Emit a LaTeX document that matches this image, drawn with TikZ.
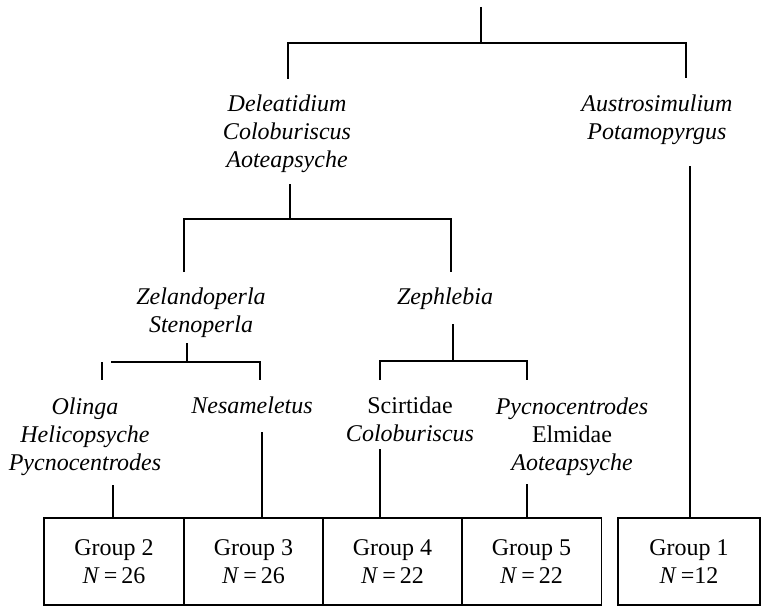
\documentclass[tikz,border=0pt]{standalone}
\usepackage{fontspec}
\setmainfont{Liberation Serif}

\tikzset{
	taxa/.style={align=center,inner sep=0pt,font=\fontsize{24}{28}\selectfont\itshape},
	grp/.style={draw,line width=1.6pt,minimum width=140pt,minimum height=87pt,align=center,inner sep=0pt,font=\fontsize{24}{28}\selectfont},
	br/.style={line width=1.6pt}
}

\begin{document}
\begin{tikzpicture}[x=1pt,y=-1pt]
	\useasboundingbox (0,0) rectangle (762,607);
	\node[taxa] (del) at (287,134) {Deleatidium\\Coloburiscus\\Aoteapsyche};
	\node[taxa] (aus) at (657,120) {Austrosimulium\\Potamopyrgus};
	\node[taxa] (zel) at (201,313) {Zelandoperla\\Stenoperla};
	\node[taxa] (zep) at (445,299) {Zephlebia};
	\node[taxa] (oli) at (85,437) {Olinga\\Helicopsyche\\Pycnocentrodes};
	\node[taxa] (nes) at (252,405) {Nesameletus};
	\node[taxa] (sci) at (410,419) {\upshape Scirtidae\\Coloburiscus};
	\node[taxa] (pyc) at (572,437) {Pycnocentrodes\\\upshape Elmidae\\Aoteapsyche};
	\node[grp] (g2) at (114,561.5) {Group 2\\\textit{N}\,=\,26};
	\node[grp] (g3) at (253.5,561.5) {Group 3\\\textit{N}\,=\,26};
	\node[grp] (g4) at (392.5,561.5) {Group 4\\\textit{N}\,=\,22};
	\node[grp] (g5) at (531.5,561.5) {Group 5\\\textit{N}\,=\,22};
	\node[grp,minimum width=142pt] (g1) at (689,561.5) {Group 1\\\textit{N}\,=12};
	\coordinate (root) at (481,7);
	\coordinate (top) at (481,43);
	\coordinate (dL) at (288,79);
	\coordinate (dR) at (686,78);
	\coordinate (d1) at (290,184);
	\coordinate (h1) at (290,219);
	\coordinate (d1L) at (184,272);
	\coordinate (d1R) at (451,272);
	\coordinate (d2) at (187,343);
	\coordinate (h2) at (187,362);
	\coordinate (h2L) at (111,362);
	\coordinate (d2R) at (260,380);
	\coordinate (t2a) at (102,362);
	\coordinate (t2b) at (102,380);
	\coordinate (d3) at (453,324);
	\coordinate (h3) at (453,361);
	\coordinate (d3L) at (380,380);
	\coordinate (d3R) at (527,380);
	\coordinate (v1) at (690,166);
	\coordinate (v2) at (113,485);
	\coordinate (v3) at (262,432);
	\coordinate (v4) at (380,449);
	\coordinate (v5) at (527,484);
	\draw[br] (root) -- (top);
	\draw[br] (dL) |- (top) -| (dR);
	\draw[br] (d1) -- (h1);
	\draw[br] (d1L) |- (h1) -| (d1R);
	\draw[br] (d2) -- (h2);
	\draw[br] (h2L) -- (h2) -| (d2R);
	\draw[br] (t2a) -- (t2b);
	\draw[br] (d3) -- (h3);
	\draw[br] (d3L) |- (h3) -| (d3R);
	\draw[br] (v1) -- (v1 |- g1.north);
	\draw[br] (v2) -- (v2 |- g2.north);
	\draw[br] (v3) -- (v3 |- g3.north);
	\draw[br] (v4) -- (v4 |- g4.north);
	\draw[br] (v5) -- (v5 |- g5.north);
\end{tikzpicture}
\end{document}
